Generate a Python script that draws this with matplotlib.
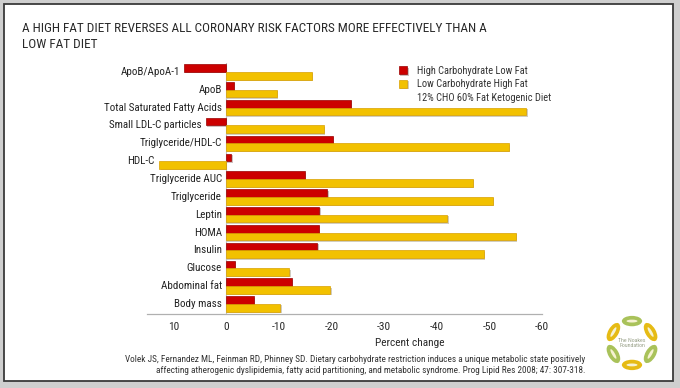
import matplotlib
matplotlib.use('Agg')
import matplotlib.pyplot as plt
from matplotlib.patches import Rectangle, Ellipse, Patch
import matplotlib.patheffects as pe
import numpy as np

# data (percent change)
categories = ["ApoB/ApoA-1", "ApoB", "Total Saturated Fatty Acids", "Small LDL-C particles",
              "Triglyceride/HDL-C", "HDL-C", "Triglyceride AUC", "Triglyceride", "Leptin",
              "HOMA", "Insulin", "Glucose", "Abdominal fat", "Body mass"]
high_carb = [8, -1.5, -23.7, 3.8, -20.3, -1.0, -15, -19.2, -17.7, -17.6, -17.3, -1.7, -12.5, -5.3]
low_carb = [-16.3, -9.7, -57, -18.6, -53.7, 12.7, -46.9, -50.7, -42, -55, -49, -12, -19.8, -10.3]
xticks = [10, 0, -10, -20, -30, -40, -50, -60]

plt.rcParams['font.family'] = ['Roboto Condensed', 'Liberation Sans', 'DejaVu Sans']
plt.rcParams['axes.unicode_minus'] = False

W, H = 680, 388
fig = plt.figure(figsize=(6.8, 3.88), dpi=100, facecolor='#cfcfcf')

# white slide panel
slide = Rectangle((4 / W, 1 - 381 / H), 669 / W, 377 / H, transform=fig.transFigure,
                  facecolor='white', edgecolor='#3a3a3a', lw=1.3, zorder=-1)
fig.patches.append(slide)

fig.text(22 / W, 1 - 22 / H,
         "A HIGH FAT DIET REVERSES ALL CORONARY RISK FACTORS MORE EFFECTIVELY THAN A\nLOW FAT DIET",
         fontsize=9.55, color='#2a2a2a', va='top', ha='left', linespacing=1.35)

ax = fig.add_axes([147 / W, 1 - 314 / H, (542 - 147) / W, (314 - 63) / H])
ax.set_facecolor('none')

y = np.arange(len(categories))
h = 0.43
shadow = [pe.SimplePatchShadow(offset=(1, -1), alpha=0.25), pe.Normal()]
b1 = ax.barh(y - 0.215, high_carb, height=h, color='#cc0000', edgecolor='#9a0000', lw=0.5,
             label='High Carbohydrate Low Fat', zorder=3)
b2 = ax.barh(y + 0.215, low_carb, height=h, color='#f2c100', edgecolor='#d9a000', lw=0.5,
             label='Low Carbohydrate High Fat', zorder=3)
for b in list(b1) + list(b2):
    b.set_path_effects(shadow)

ax.set_xlim(15, -60)
ax.set_ylim(len(categories) - 0.44, -0.5)
ax.axvline(0, color='#c0c0c0', lw=0.8, zorder=1)

for sp in ['top', 'right', 'left']:
    ax.spines[sp].set_visible(False)
ax.spines['bottom'].set_color('#b0b0b0')
ax.spines['bottom'].set_linewidth(0.9)
ax.set_yticks([])
ax.set_xticks(xticks)
ax.set_xticklabels([str(t) for t in xticks])
ax.tick_params(axis='x', length=0, pad=6, labelsize=8.2, labelcolor='#2a2a2a')

# category labels sit just left of the leftmost bar
for i, name in enumerate(categories):
    xpos = max(0, high_carb[i], low_carb[i])
    ax.annotate(name, xy=(xpos, i), xytext=(-3, 0), textcoords='offset points',
                ha='right', va='center', fontsize=7.9, color='#222222')

fig.text(410 / W, 1 - 343 / H, "Percent change", ha='center', va='center',
         fontsize=8.2, color='#2a2a2a')

blank = Patch(facecolor='none', edgecolor='none', label='12% CHO 60% Fat Ketogenic Diet')
leg = ax.legend(handles=[b1, b2, blank], loc='upper left', bbox_to_anchor=(399 / W, 1 - 66 / H),
                bbox_transform=fig.transFigure, frameon=False, fontsize=7.5,
                handlelength=0.8, handleheight=0.8, handletextpad=0.9, labelspacing=0.32,
                borderpad=0, borderaxespad=0)
for t in leg.get_texts():
    t.set_color('#333333')

fig.text(585 / W, 1 - 365 / H,
         "Volek JS, Fernandez ML, Feinman RD, Phinney SD. Dietary carbohydrate restriction induces a unique metabolic state positively\n"
         "affecting atherogenic dyslipidemia, fatty acid partitioning, and metabolic syndrome. Prog Lipid Res 2008; 47: 307-318.",
         ha='right', va='center', multialignment='right', fontsize=6.65, color='#333333',
         linespacing=1.4)

# small foundation logo, bottom right
lg = fig.add_axes([603 / W, 1 - 373 / H, 58 / W, 60 / H])
lg.set_xlim(-1, 1)
lg.set_ylim(-1.04, 1.04)
lg.axis('off')
green = '#a9c25a'
gold = '#e6bb14'
ovals = [(90, green), (30, gold), (-30, green), (-90, gold), (-150, green), (150, gold)]
for ang, col in ovals:
    a = np.deg2rad(ang)
    cx, cy = 0.74 * np.cos(a), 0.76 * np.sin(a)
    lg.add_patch(Ellipse((cx, cy), 0.7, 0.36, angle=ang - 90, facecolor=col, edgecolor='none'))
    lg.add_patch(Ellipse((cx, cy), 0.38, 0.1, angle=ang - 90, facecolor='#f6f2d2', edgecolor='none'))
lg.text(0, 0.0, "The Noakes\nFoundation", ha='center', va='center', fontsize=4.2,
        color='#9aa28a', linespacing=1.1)

fig.savefig('out.png', dpi=100, facecolor=fig.get_facecolor())
